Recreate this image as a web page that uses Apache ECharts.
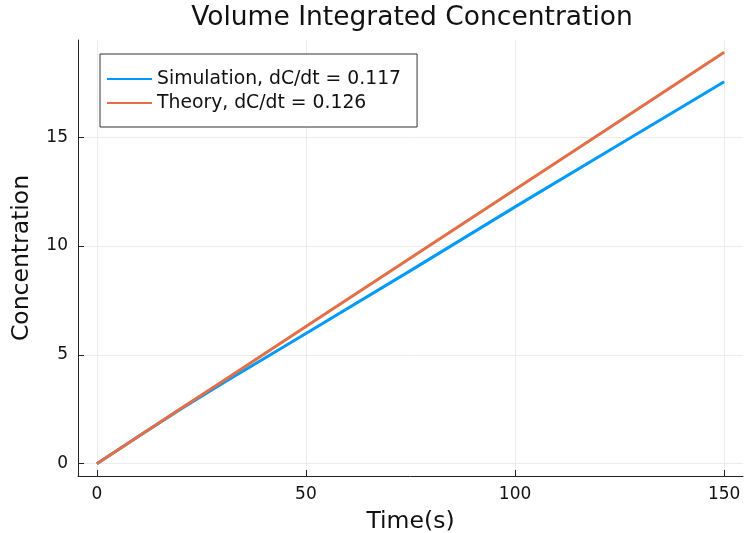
<!DOCTYPE html>
<html>
<head>
<meta charset="utf-8">
<script src="https://cdn.jsdelivr.net/npm/echarts@6/dist/echarts.min.js"></script>
<style>
  html, body { margin: 0; padding: 0; background: #fff; }
  #chart { width: 744px; height: 533px; }
</style>
</head>
<body>
<div id="chart"></div>
<script>
// Time samples (s)
var times = [0, 10, 20, 30, 40, 50, 75, 100, 125, 150];
// Volume integrated concentration from the simulation
var simulation = [0, 1.26, 2.50, 3.68, 4.83, 5.98, 8.87, 11.80, 14.68, 17.55];
// Theoretical concentration, dC/dt = 0.126
var theory = [0, 1.26, 2.52, 3.78, 5.04, 6.30, 9.45, 12.60, 15.75, 18.90];
// Tick labels
var xTicks = [0, 50, 100, 150];
var yTicks = [0, 5, 10, 15];
var seriesNames = ['Simulation, dC/dt = 0.117', 'Theory, dC/dt = 0.126'];

function pairs(xs, ys) {
  return xs.map(function (x, i) { return [x, ys[i]]; });
}

var font = 'DejaVu Sans';
var textColor = '#111';
var axisColor = '#222';
var gridColor = '#ececec';

var chart = echarts.init(document.getElementById('chart'), null, { renderer: 'canvas' });
chart.setOption({
  animation: false,
  backgroundColor: '#fff',
  title: {
    text: 'Volume Integrated Concentration',
    left: 412, top: 5, padding: 0, textAlign: 'center',
    textStyle: { fontFamily: font, fontSize: 26.5, fontWeight: 'normal', color: textColor }
  },
  legend: {
    orient: 'vertical',
    left: 100, top: 54,
    padding: [15, 16, 14, 7],
    itemGap: 4,
    itemWidth: 45, itemHeight: 2,
    itemStyle: { borderWidth: 0 },
    icon: 'rect',
    borderColor: '#333', borderWidth: 1,
    backgroundColor: '#fff',
    textStyle: { fontFamily: font, fontSize: 18.8, lineHeight: 20, color: textColor },
    data: seriesNames
  },
  grid: { left: 78, right: 1, top: 40, bottom: 57, containLabel: false, outerBoundsMode: 'none' },
  xAxis: {
    type: 'value',
    min: -4.5, max: 154.5,
    name: 'Time(s)', nameLocation: 'middle', nameGap: 34,
    nameTextStyle: { fontFamily: font, fontSize: 23.5, color: textColor },
    axisLine: { show: true, onZero: false, lineStyle: { color: axisColor, width: 1 } },
    axisTick: { show: true, inside: true, length: 6, customValues: xTicks, lineStyle: { color: axisColor } },
    axisLabel: { customValues: xTicks, fontFamily: font, fontSize: 17, color: textColor, margin: 10 },
    splitLine: { show: true, lineStyle: { color: gridColor, width: 1 } }
  },
  yAxis: {
    type: 'value',
    min: -0.567, max: 19.467,
    name: 'Concentration', nameLocation: 'middle', nameGap: 44, nameRotate: 90,
    nameTextStyle: { fontFamily: font, fontSize: 23.5, color: textColor },
    axisLine: { show: true, onZero: false, lineStyle: { color: axisColor, width: 1 } },
    axisTick: { show: true, inside: true, length: 6, customValues: yTicks, lineStyle: { color: axisColor } },
    axisLabel: { customValues: yTicks, fontFamily: font, fontSize: 17, color: textColor, margin: 10 },
    splitLine: { show: true, lineStyle: { color: gridColor, width: 1 } }
  },
  series: [
    {
      name: seriesNames[0], type: 'line', data: pairs(times, simulation),
      showSymbol: false, symbol: 'none', smooth: false,
      lineStyle: { color: '#009AFA', width: 3 }, itemStyle: { color: '#009AFA' }
    },
    {
      name: seriesNames[1], type: 'line', data: pairs(times, theory),
      showSymbol: false, symbol: 'none', smooth: false,
      lineStyle: { color: '#E26F46', width: 3 }, itemStyle: { color: '#E26F46' }
    }
  ]
});
</script>
</body>
</html>
